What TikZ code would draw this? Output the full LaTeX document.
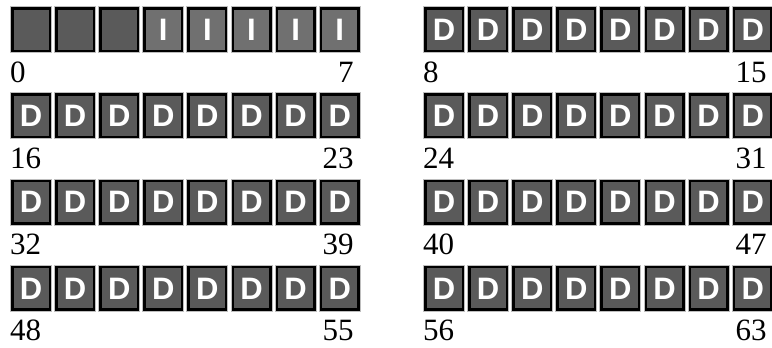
\documentclass[tikz,border=0pt]{standalone}
\usepackage{fontspec}
\setmainfont{Liberation Serif}
\newfontfamily\cellfont{Liberation Sans}
\usepackage{tikz}
\usetikzlibrary{positioning}
\definecolor{celldark}{RGB}{90,90,90}
\definecolor{celllight}{RGB}{112,112,112}
\definecolor{cellrim}{RGB}{190,190,190}

\begin{document}
\begin{tikzpicture}[
  x=1pt, y=-1pt,
  cell/.style={draw=black, line width=2.5pt, fill=celldark,
               minimum width=37.5pt, minimum height=42.5pt, inner sep=0pt,
               text=white, font=\cellfont\bfseries\fontsize{31}{31}\selectfont,
               preaction={draw=cellrim, line width=4.5pt}},
  icell/.style={cell, fill=celllight},
  num/.style={inner sep=0pt, font=\fontsize{31}{31}\selectfont}
]
  \useasboundingbox (0,0) rectangle (772,348);
  \clip (0,0) rectangle (772,348);

  \foreach \r in {0,...,3} {
    \foreach \g in {0,1} {
      \foreach \i in {0,...,7} {
        \pgfmathtruncatemacro\idx{16*\r+8*\g+\i}
        \ifnum\idx<3
          \node[cell] (c-\r-\g-\i) at (31+413*\g+44.1*\i, 29.5+86.3*\r) {};
        \else\ifnum\idx<8
          \node[icell] (c-\r-\g-\i) at (31+413*\g+44.1*\i, 29.5+86.3*\r) {I};
        \else
          \node[cell] (c-\r-\g-\i) at (31+413*\g+44.1*\i, 29.5+86.3*\r) {D};
        \fi\fi
      }
      \pgfmathtruncatemacro\first{16*\r+8*\g}
      \pgfmathtruncatemacro\last{16*\r+8*\g+7}
      \node[num, anchor=base west] (n-\r-\g-a)
        at ([xshift=-1pt, yshift=-30pt]c-\r-\g-0.south west) {\first};
      \node[num, anchor=base east] (n-\r-\g-b)
        at ([xshift=-6pt, yshift=-30pt]c-\r-\g-7.south east) {\last};
    }
  }
\end{tikzpicture}
\end{document}
